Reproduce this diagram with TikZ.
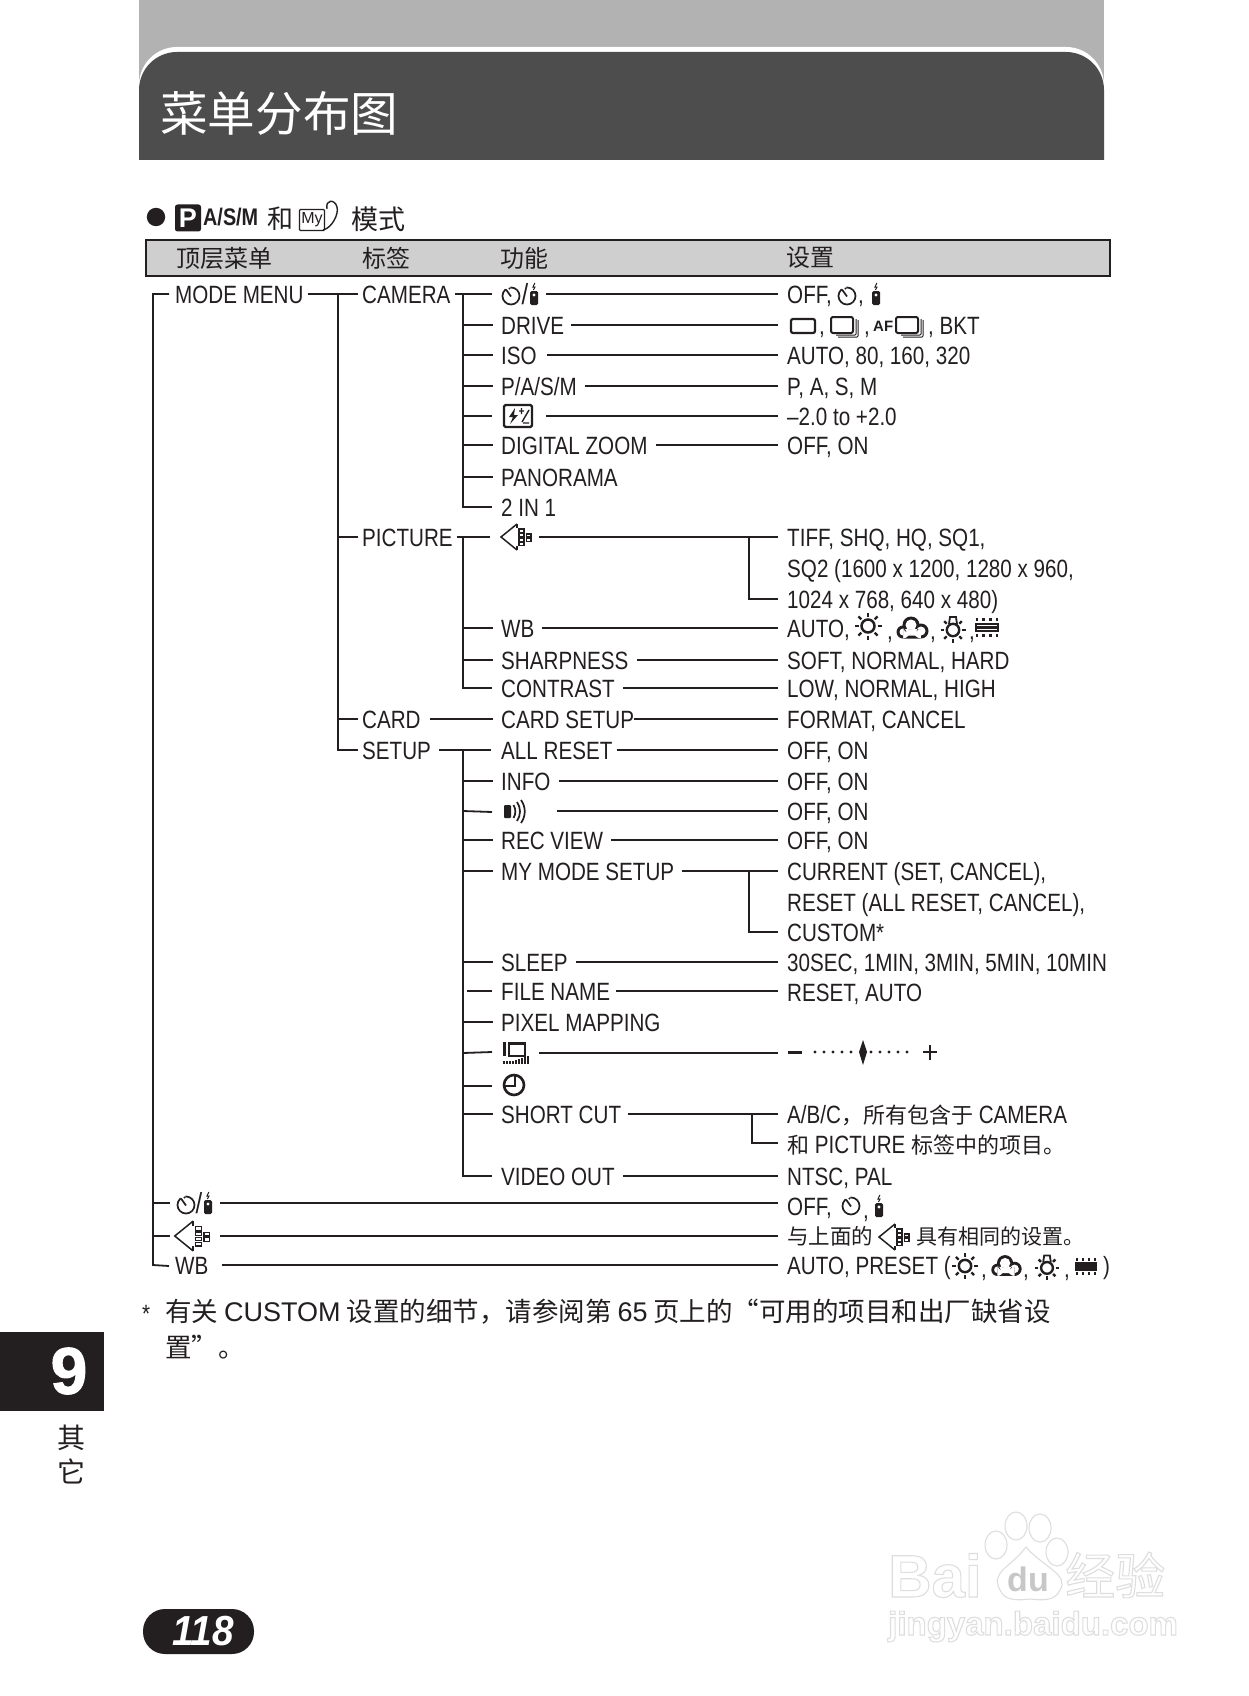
\documentclass[tikz,border=0pt]{standalone}
\usepackage{fontspec}
\setmainfont[FakeStretch=0.825]{Liberation Sans}
\newfontfamily\cjk{Noto Sans CJK SC}
\newfontfamily\plainsans{Liberation Sans}
\newfontfamily\heavy[FakeBold=1.5]{Liberation Sans}
\newfontfamily\pagefont[FakeStretch=0.92]{Liberation Sans}
\definecolor{ink}{HTML}{231F20}
\definecolor{band}{HTML}{B2B2B2}
\definecolor{dark}{HTML}{4D4D4D}
\definecolor{hdr}{HTML}{CFCFCF}
\newcommand\fs[1]{\fontsize{#1}{#1}\selectfont}
\newcommand\Tx[4]{\node[txt] (#1) at (#2,#3) {#4};}
\newcommand\Ic[4]{\node[icobox,minimum width=#4pt] (#1) at (#2,#3) {};}
% connector between two named nodes at the height of the first
\newcommand\Hl[4][]{\draw[ln,shorten <=#4pt,shorten >=9pt,#1] (#2.east) -- (#2.east -| #3.west);}
\newcommand\St[3][]{\draw[ln,shorten >=8pt,#1] (#2 |- #3.west) -- (#3.west);}
\newcommand\Outl[1]{\special{pdf:code q 1 Tr 1.1 w 0.87 0.87 0.87 RG 1 1 1 rg}#1\special{pdf:code Q}}
\tikzset{
  x=1pt,y=-1pt,
  every path/.style={line join=miter},
  txt/.style={inner sep=0pt,anchor=west,text height=18pt,text depth=0pt,font=\fs{25},text=ink},
  zh/.style={inner sep=0pt,anchor=west,font=\cjk\fs{24},text=ink},
  icobox/.style={inner sep=0pt,minimum height=10pt},
  ln/.style={draw=ink,line width=1.8pt},
  thk/.style={line width=2.8pt},
  timer/.pic={
    \draw[ink,line width=1.7pt] (0,0) circle (8.5);
    \fill[white] (0,0) -- (-9,-12) -- (-1,-12) -- cycle;
    \draw[ink,line width=1.7pt] (-5,-6.5) -- (0,0.5);
    \fill[ink] (-1.5,-7.5) circle (1.1);
  },
  remote/.pic={
    \fill[ink,rounded corners=1.5pt] (-4,-3) rectangle (4,11);
    \fill[white] (0,1) circle (1.6);
    \draw[ink,line width=1pt] (0.8,-11) -- (-1,-7) -- (1,-7) -- (-0.6,-4);
  },
  frameone/.pic={\draw[ink,line width=2.2pt,rounded corners=2pt] (-12,-7) rectangle (12,7);},
  frameseq/.pic={
    \draw[ink,line width=1pt,rounded corners=1pt] (-7,11) -- (13,11) -- (13,-6);
    \draw[ink,line width=1pt,rounded corners=1pt] (-9,9) -- (11,9) -- (11,-7);
    \draw[ink,fill=white,line width=2pt,rounded corners=2pt] (-14,-9) rectangle (8,7);
  },
  flashcomp/.pic={
    \draw[ink,line width=2.4pt,rounded corners=1.5pt] (-14,-11) rectangle (14,11);
    \fill[ink] (-3,-8) -- (-9,1) -- (-5,1) -- (-8,8) -- (0,-1) -- (-4,-1) -- cycle;
    \draw[ink,line width=1.4pt] (1,-5) -- (6,-5) (3.5,-8) -- (3.5,-2) (4,6) -- (11,-6) (5,7) -- (11,7);
  },
  sun/.pic={
    \draw[ink,line width=2.5pt] (0,0) circle (6.5);
    \foreach \a in {0,45,...,315} \draw[ink,line width=2.4pt] (\a:9.5) -- (\a:13.5);
  },
  cloud/.pic={
    \fill[ink] (-9,4) circle (6.5) (-1,-3) circle (8.5) (9,3) circle (7.5) (-9,1) rectangle (9,10.5);
    \fill[white] (-9,4) circle (3.5) (-1,-3) circle (5.5) (9,3) circle (4.5) (-9,1) rectangle (9,7.5);
  },
  lamp/.pic={
    \draw[ink,line width=2.4pt] (0,2) circle (6.2);
    \foreach \a in {0,45,...,180,225,315} \draw[ink,line width=2.4pt] ($(0,2)+(\a:9)$) -- ($(0,2)+(\a:12.5)$);
    \draw[ink,line width=1.8pt] (-4,-4) -- (-3,-11) -- (3,-11) -- (4,-4);
  },
  fluor/.pic={
    \draw[ink,line width=2.4pt] (-11,-3) rectangle (11,4);
    \draw[ink,line width=2.2pt] (-11,0.5) -- (11,0.5);
    \foreach \q in {-10,-3.5,3.5,10} \draw[ink,line width=2.4pt] (\q,-9) -- (\q,-6) (\q,7) -- (\q,10);
  },
  speaker/.pic={
    \fill[ink,rounded corners=1pt] (-13,-6) rectangle (-6,7);
    \draw[ink,line width=1.7pt] (-3.5,-6) .. controls (-1,-2) and (-1,3) .. (-3.5,7);
    \draw[ink,line width=1.7pt] (0,-9) .. controls (4,-3) and (4,4) .. (0,10);
    \draw[ink,line width=1.7pt] (4,-11) .. controls (9,-4) and (9,5) .. (4,12);
  },
  monitor/.pic={
    \fill[ink] (-13,-11) rectangle (-10.5,3);
    \draw[ink,line width=2.5pt] (-7,-9.5) rectangle (9,3);
    \foreach \q/\h in {-12/8,-9/8,-6/8,-3/8,0/7,3/6,6/5,9/4,12/3} \fill[ink] (\q-1,\h) rectangle (\q+0.6,11);
  },
  clockic/.pic={
    \draw[ink,line width=2.6pt] (0,0) circle (10);
    \draw[ink,line width=2pt] (-9,1) -- (1,1) -- (1,-9);
  },
  quality/.pic={
    \draw[ink,line width=1.5pt] (1,-13) -- (-15,0) -- (1,13);
    \draw[ink,line width=1.5pt] (1,-13) -- (1,-9) (1,9) -- (1,13);
    \foreach \q in {-8,-3.5,1,5.5} \draw[ink,line width=1.2pt] (3,\q) rectangle (8,\q+3.2);
    \foreach \q in {-3,1.5} \draw[ink,line width=1.2pt] (10.5,\q) rectangle (15,\q+3);
  },
}
\usetikzlibrary{calc}
\begin{document}
\begin{tikzpicture}
\useasboundingbox (0,0) rectangle (1248,1696);
\fill[white] (0,0) rectangle (1248,1696);
% title band
\fill[band] (139,0) rectangle (1104,100);
\fill[white,rounded corners=38pt] (139,160) -- (139,47) -- (1104,47) -- (1104,160) -- cycle;
\fill[dark,rounded corners=38pt] (139,260) -- (139,52) -- (1104,52) -- (1104,260) -- cycle;
\fill[white] (130,160) rectangle (1112,265);
\node[zh,font=\cjk\fs{47.6}] (title) at (160,113) {\color{white}菜单分布图};

% mode heading
\fill[ink] (156,217) circle (9.2);
\node[inner sep=0pt,anchor=center,minimum width=26pt,minimum height=27pt,fill=ink,rounded corners=2.5pt,text=white,font=\plainsans\bfseries\fs{27}] (picp) at (188,218) {P};
\node[inner sep=0pt,anchor=west,font=\bfseries\fs{24},text=ink] (asm) at (203,217) {A/S/M};
\node[zh,font=\cjk\fs{26}] (he) at (267,219) {和};
\node[inner sep=0pt,minimum width=25pt,minimum height=21pt,draw=ink,line width=1.2pt,rounded corners=1pt,font=\plainsans\fs{16},text=ink] (myic) at (312,220) {My};
\draw[ink,line width=1.4pt] (323,230) .. controls (332,228) and (339,214) .. (337,207) .. controls (335,199) and (325,199) .. (327,209);
\node[zh,font=\cjk\fs{27}] (moshi) at (351,219) {模式};

% header bar
\draw[ink,fill=hdr,line width=2pt] (146,240) rectangle (1110,276);
\node[zh] (h1) at (176,258) {顶层菜单};
\node[zh] (h2) at (362,258) {标签};
\node[zh] (h3) at (500,258) {功能};
\node[zh] (h4) at (786,258) {设置};

% column 1 and 2
\Tx{mm}{175}{294}{MODE MENU}
\Tx{cam}{362}{294}{CAMERA}
\Tx{pic}{362}{537}{PICTURE}
\Tx{crd}{362}{719}{CARD}
\Tx{stp}{362}{750}{SETUP}
\Ic{lt}{192}{1203}{28}
\Ic{lq}{192}{1236}{36}
\Tx{lwb}{175}{1265}{WB}
\coordinate (tA) at (153,294);
\coordinate (tB) at (338,294);
\coordinate (tC) at (463,294);

% column 3
\Ic{m1}{520}{294}{38}
\Tx{drive}{501}{325}{DRIVE}
\Tx{iso}{501}{355}{ISO}
\Tx{pasm}{501}{386}{P/A/S/M}
\Ic{m5}{518}{416}{30}
\Tx{dz}{501}{445}{DIGITAL ZOOM}
\Tx{pano}{501}{477}{PANORAMA}
\Tx{twoin}{501}{507}{2 IN 1}
\Ic{q1}{516}{537}{32}
\Tx{mwb}{501}{628}{WB}
\Tx{sharp}{501}{660}{SHARPNESS}
\Tx{cont}{501}{688}{CONTRAST}
\Tx{cs}{501}{719}{CARD SETUP}
\Tx{ar}{501}{750}{ALL RESET}
\Tx{info}{501}{781}{INFO}
\Ic{spk}{517}{811}{30}
\Tx{rv}{501}{840}{REC VIEW}
\Tx{mms}{501}{871}{MY MODE SETUP}
\Tx{slp}{501}{962}{SLEEP}
\Tx{fn}{501}{991}{FILE NAME}
\Tx{pm}{501}{1022}{PIXEL MAPPING}
\Ic{mon}{516}{1053}{26}
\Ic{clk}{514}{1086}{22}
\Tx{sc}{501}{1114}{SHORT CUT}
\Tx{vo}{501}{1176}{VIDEO OUT}

% column 4
\Tx{r1}{787}{294}{OFF,}
\Tx{r1c}{858}{294}{,}
\Tx{r2a}{787}{325}{\phantom{,}}
\Tx{r2b}{819}{325}{,}
\Tx{r2c}{864}{325}{,}
\node[inner sep=0pt,anchor=west,font=\plainsans\bfseries\fs{15},text=ink] (r2af) at (873,326) {AF};
\Tx{r2d}{928}{325}{, BKT}
\Tx{r3}{787}{355}{AUTO, 80, 160, 320}
\Tx{r4}{787}{386}{P, A, S, M}
\Tx{r5}{787}{416}{–2.0 to +2.0}
\Tx{r6}{787}{445}{OFF, ON}
\Tx{r7}{787}{537}{TIFF, SHQ, HQ, SQ1,}
\Tx{r8}{787}{568}{SQ2 (1600 x 1200, 1280 x 960,}
\Tx{r9}{787}{599}{1024 x 768, 640 x 480)}
\Tx{r10}{787}{628}{AUTO,}
\Tx{r10a}{887}{630}{,}
\Tx{r10b}{930}{630}{,}
\Tx{r10c}{969}{630}{,}
\Tx{r11}{787}{660}{SOFT, NORMAL, HARD}
\Tx{r12}{787}{688}{LOW, NORMAL, HIGH}
\Tx{r13}{787}{719}{FORMAT, CANCEL}
\Tx{r14}{787}{750}{OFF, ON}
\Tx{r15}{787}{781}{OFF, ON}
\Tx{r16}{787}{811}{OFF, ON}
\Tx{r17}{787}{840}{OFF, ON}
\Tx{r18}{787}{871}{CURRENT (SET, CANCEL),}
\Tx{r19}{787}{902}{RESET (ALL RESET, CANCEL),}
\Tx{r20}{787}{932}{CUSTOM*}
\Tx{r21}{787}{962}{30SEC, 1MIN, 3MIN, 5MIN, 10MIN}
\Tx{r22}{787}{992}{RESET, AUTO}
\Ic{sl}{788}{1052}{2}
\Tx{r24}{787}{1114}{A/B/C{\cjk\fs{22}，所有包含于} CAMERA}
\Tx{r25}{787}{1144}{{\cjk\fs{22}和} PICTURE {\cjk\fs{22}标签中的项目。}}
\Tx{r26}{787}{1176}{NTSC, PAL}
\Tx{r27}{787}{1206}{OFF,}
\Tx{r27a}{863}{1209}{,}
\Tx{r28}{787}{1235}{{\cjk\fs{21.5}与上面的}}
\Tx{r28b}{916}{1235}{{\cjk\fs{21}具有相同的设置。}}
\Tx{r29}{787}{1265}{AUTO, PRESET (}
\Tx{r29a}{981}{1268}{,}
\Tx{r29b}{1023}{1268}{,}
\Tx{r29c}{1064}{1268}{,}
\Tx{r29d}{1103}{1265}{)}

% icons
\pic at (511,296) {timer};
\node[inner sep=0pt,font=\fs{29},text=ink] (m1s) at (525,294) {/};
\pic at (534,294) {remote};
\pic at (847,296) {timer};
\pic at (876,294) {remote};
\pic at (803,326) {frameone};
\pic at (845,326) {frameseq};
\pic at (910,326) {frameseq};
\pic at (518,416) {flashcomp};
\pic at (516,537) {quality};
\pic at (868,626) {sun};
\pic at (912,628) {cloud};
\pic at (953,628) {lamp};
\pic at (987,627) {fluor};
\pic at (517,811) {speaker};
\pic at (516,1053) {monitor};
\pic at (514,1085) {clockic};
\pic at (851,1206) {timer};
\pic at (879,1206) {remote};
\pic at (186,1205) {timer};
\node[inner sep=0pt,font=\fs{29},text=ink] (lts) at (199,1203) {/};
\pic at (208,1203) {remote};
\pic[scale=1.15] at (192,1236) {quality};
\pic at (894,1237) {quality};
\pic[scale=.95] at (965,1266) {sun};
\pic[scale=.95] at (1006,1266) {cloud};
\pic[scale=.95] at (1047,1266) {lamp};
\pic[scale=.9] at (1086,1266) {fluor};
% exposure slider
\fill[ink] (788,1050.5) rectangle (802,1054);
\foreach \q in {815,824,833,842,851,871,880,889,898,907} \fill[ink] (\q,1052) circle (1.6);
\fill[ink] (863,1040) -- (867,1052) -- (863,1065) -- (859,1052) -- cycle;
\draw[ink,line width=1.5pt] (923,1052) -- (937,1052) (930,1045) -- (930,1060);

% trunks
\draw[ln] (169,294) -- (tA) -- (tA |- lwb.west) -- (169,1266);
\draw[ln,shorten <=4pt] (mm.east) -- (tB);
\draw[ln] (tB) -- (358,294);
\draw[ln,shorten <=4pt,shorten >=0pt] (cam.east) -- (492,294);
\draw[ln] (tB) -- (tB |- stp.west) -- (358,750);
\draw[ln,shorten >=4pt] (tB |- pic.west) -- (pic.west);
\draw[ln,shorten >=4pt] (tB |- crd.west) -- (crd.west);
\draw[ln] (tC) -- (tC |- twoin.west) -- (492,507);
\draw[ln] (tC |- pic.west) -- (tC |- cont.west) -- (492,688);
\draw[ln] (tC |- stp.west) -- (tC |- vo.west) -- (492,1176);
\draw[ln,thk,shorten <=4pt,shorten >=0pt] (pic.east) -- (490,537);
\draw[ln,shorten <=9pt,shorten >=0pt] (crd.east) -- (491,719);
\draw[ln,shorten <=8pt,shorten >=0pt] (stp.east) -- (491,750);
% stubs
\St{tC}{drive}\St{tC}{iso}\St{tC}{pasm}
\draw[ln] (tC |- m5.west) -- (492,416);
\St[thk]{tC}{dz}\St{tC}{pano}
\St{tC}{mwb}\St{tC}{sharp}
\St{tC}{cs}\St{tC}{info}
\draw[ln] (tC |- spk.west) -- (492,812);
\St{tC}{rv}\St{tC}{mms}\St{tC}{slp}
\draw[ln,thk] (467,991) -- (492,991);
\St[thk]{tC}{pm}
\draw[ln] (tC |- mon.west) -- (492,1052);
\draw[ln] (tC |- clk.west) -- (492,1086);
\St{tC}{sc}
\draw[ln,thk] (153,1203) -- (170,1203);
\draw[ln] (153,1236) -- (170,1236);
% long connectors
\Hl{m1}{r1}{7}
\Hl{drive}{r2a}{7}
\Hl{iso}{r3}{10}
\Hl{pasm}{r4}{8}
\Hl{m5}{r5}{13}
\Hl[thk]{dz}{r6}{8}
\Hl[thk]{q1}{r7}{7}
\Hl{mwb}{r10}{7}
\Hl{sharp}{r11}{8}
\Hl{cont}{r12}{8}
\Hl[thk]{cs}{r13}{0}
\Hl{ar}{r14}{4}
\Hl{info}{r15}{8}
\Hl[thk]{spk}{r16}{25}
\Hl[thk]{rv}{r17}{8}
\Hl{mms}{r18}{8}
\Hl{slp}{r21}{8}
\Hl{fn}{r22}{6}
\Hl{mon}{sl}{10}
\Hl{sc}{r24}{7}
\Hl{vo}{r26}{8}
\Hl[line width=2.3pt]{lt}{r27}{14}
\Hl{lq}{r28}{10}
\Hl[thk]{lwb}{r29}{13}
% branches
\draw[ln] (749,537) -- (749,599) -- (778,599);
\draw[ln] (749,871) -- (749,932) -- (778,932);
\draw[ln] (752,1114) -- (752,1143) -- (778,1143);

% footnote
\Tx{fs}{142}{1313}{*}
\node[zh,font=\cjk\fs{26.5}] (f1) at (165,1312) {有关 {\plainsans\fs{27}CUSTOM} 设置的细节，请参阅第 {\plainsans\fs{27}65} 页上的“可用的项目和出厂缺省设};
\node[zh,font=\cjk\fs{26.5}] (f2) at (165,1347) {置”。};

% side tab
\fill[ink] (0,1332) rectangle (104,1411);
\node[inner sep=0pt,anchor=center,text=white,font=\heavy\bfseries\fs{66}] (nine) at (69,1371) {9};
\node[zh,font=\cjk\fs{28}] (qi) at (57,1438) {其};
\node[zh,font=\cjk\fs{28}] (ta) at (57,1471) {它};

% page number
\fill[ink,rounded corners=22pt] (143,1609) rectangle (254,1654);
\node[inner sep=0pt,anchor=center,text=white,font=\pagefont\bfseries\itshape\fs{42}] (pg) at (203,1631) {118};

% watermark
\begin{scope}[draw=black!13,line width=1.1pt,fill=white]
\draw (996,1545) ellipse (11 and 14);
\draw (1016,1526) ellipse (11 and 14);
\draw (1040,1528) ellipse (11 and 14);
\draw (1057,1552) ellipse (11 and 14);
\draw (1000,1590) .. controls (990,1572) and (1010,1568) .. (1026,1547) .. controls (1042,1566) and (1070,1575) .. (1060,1590) .. controls (1055,1602) and (1040,1600) .. (1030,1599) .. controls (1020,1600) and (1005,1602) .. (1000,1590) -- cycle;
\end{scope}
\node[inner sep=0pt,anchor=base west,font=\plainsans\bfseries\fs{60}] (wm1) at (888,1597) {\Outl{Bai}};
\node[inner sep=0pt,anchor=base,font=\plainsans\bfseries\fs{34},text=black!22] (wm2) at (1028,1591) {du};
\node[inner sep=0pt,anchor=west,font=\cjk\fs{50}] (wm3) at (1065,1575) {\Outl{经验}};
\node[inner sep=0pt,anchor=base west,font=\plainsans\bfseries\fs{33}] (wm4) at (888,1635) {\Outl{jingyan.baidu.com}};
\end{tikzpicture}
\end{document}
